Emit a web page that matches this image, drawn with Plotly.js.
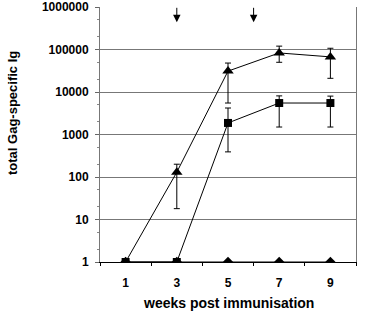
<!DOCTYPE html>
<html><head><meta charset="utf-8">
<script src="https://cdn.plot.ly/plotly-3.0.1.min.js"></script>
<style>body{margin:0;background:#fff}#c{width:368px;height:316px}</style>
</head><body><div id="c"></div>
<script>
var weeks = [1, 3, 5, 7, 9];
var triangleMean = [1, 130, 31000, 83000, 67000];
var triangleUpper = [1, 200, 48000, 120000, 107000];
var triangleLower = [1, 18, 5500, 50000, 21000];
var squareMean = [1, 1, 1870, 5500, 5500];
var squareUpper = [1, 1, 4200, 8100, 8000];
var squareLower = [1, 1, 390, 1500, 1500];
var diamondMean = [1, 1, 1, 1, 1];
var xTickLabels = ['1', '3', '5', '7', '9'];
var yTickVals = [1, 10, 100, 1000, 10000, 100000, 1000000];
var yTickLabels = ['1', '10', '100', '1000', '10000', '100000', '1000000'];
var immunisationWeeks = [3, 6];
var xTitle = 'weeks post immunisation';
var yTitle = 'total Gag-specific Ig';

function diff(a, b) { return a.map(function (v, i) { return Math.abs(v - b[i]); }); }

var FONT = 'Liberation Sans, Arial, sans-serif';

var traces = [
  {x: weeks, y: diamondMean, mode: 'lines+markers', type: 'scatter',
   line: {color: '#000', width: 1}, marker: {symbol: 'diamond', size: 8, color: '#000'}},
  {x: weeks, y: squareMean, mode: 'lines+markers', type: 'scatter',
   line: {color: '#000', width: 1}, marker: {symbol: 'square', size: 8, color: '#000'},
   error_y: {type: 'data', symmetric: false, array: diff(squareUpper, squareMean), arrayminus: diff(squareMean, squareLower),
     color: '#000', thickness: 1, width: 3}},
  {x: weeks, y: triangleMean, mode: 'lines+markers', type: 'scatter',
   line: {color: '#000', width: 1}, marker: {symbol: 'triangle-up', size: 10, color: '#000'},
   error_y: {type: 'data', symmetric: false, array: diff(triangleUpper, triangleMean), arrayminus: diff(triangleMean, triangleLower),
     color: '#000', thickness: 1, width: 3}}
];

var annotations = immunisationWeeks.map(function (w) {
  return {x: w, xref: 'x', y: 0.94, yref: 'paper', ax: 0, ay: -16, axref: 'pixel', ayref: 'pixel',
    showarrow: true, arrowhead: 2, arrowsize: 1.5, arrowwidth: 1, arrowcolor: '#000', text: ''};
});
annotations.push({text: '<b>' + xTitle + '</b>', xref: 'paper', yref: 'paper', x: 0.5, y: -0.161,
  xanchor: 'center', yanchor: 'middle', showarrow: false, font: {size: 14, family: FONT, color: '#000'}});
annotations.push({text: '<b>' + yTitle + '</b>', xref: 'paper', yref: 'paper', x: -0.344, y: 0.584,
  xanchor: 'center', yanchor: 'middle', textangle: -90, showarrow: false, font: {size: 13, family: FONT, color: '#000'}});

var layout = {
  width: 368, height: 316,
  margin: {l: 100, r: 12, t: 7, b: 54},
  paper_bgcolor: '#fff', plot_bgcolor: '#fff',
  showlegend: false,
  font: {family: FONT, color: '#000'},
  xaxis: {
    range: [0, 10], tickvals: weeks, ticktext: xTickLabels, ticks: '',
    showgrid: false, zeroline: false, showline: true, linecolor: '#000', linewidth: 1,
    tickfont: {size: 12, family: FONT, weight: 'bold'},
    minor: {tickmode: 'linear', tick0: 0, dtick: 2, ticks: 'outside', ticklen: 3, tickcolor: '#000', showgrid: false},
    ticklabelstandoff: 10
  },
  yaxis: {
    type: 'log', range: [0, 6], tickvals: yTickVals, ticktext: yTickLabels,
    ticks: 'outside', ticklen: 4, tickcolor: '#666',
    showgrid: true, gridcolor: '#777', gridwidth: 1, zeroline: false,
    showline: true, linecolor: '#777', linewidth: 1, mirror: true,
    tickfont: {size: 12, family: FONT, weight: 'bold'},
    minor: {ticks: 'outside', ticklen: 2, tickcolor: '#888', showgrid: false},
    ticklabelstandoff: 4
  },
  annotations: annotations
};

Plotly.newPlot('c', traces, layout, {displayModeBar: false, staticPlot: true});
</script></body></html>
